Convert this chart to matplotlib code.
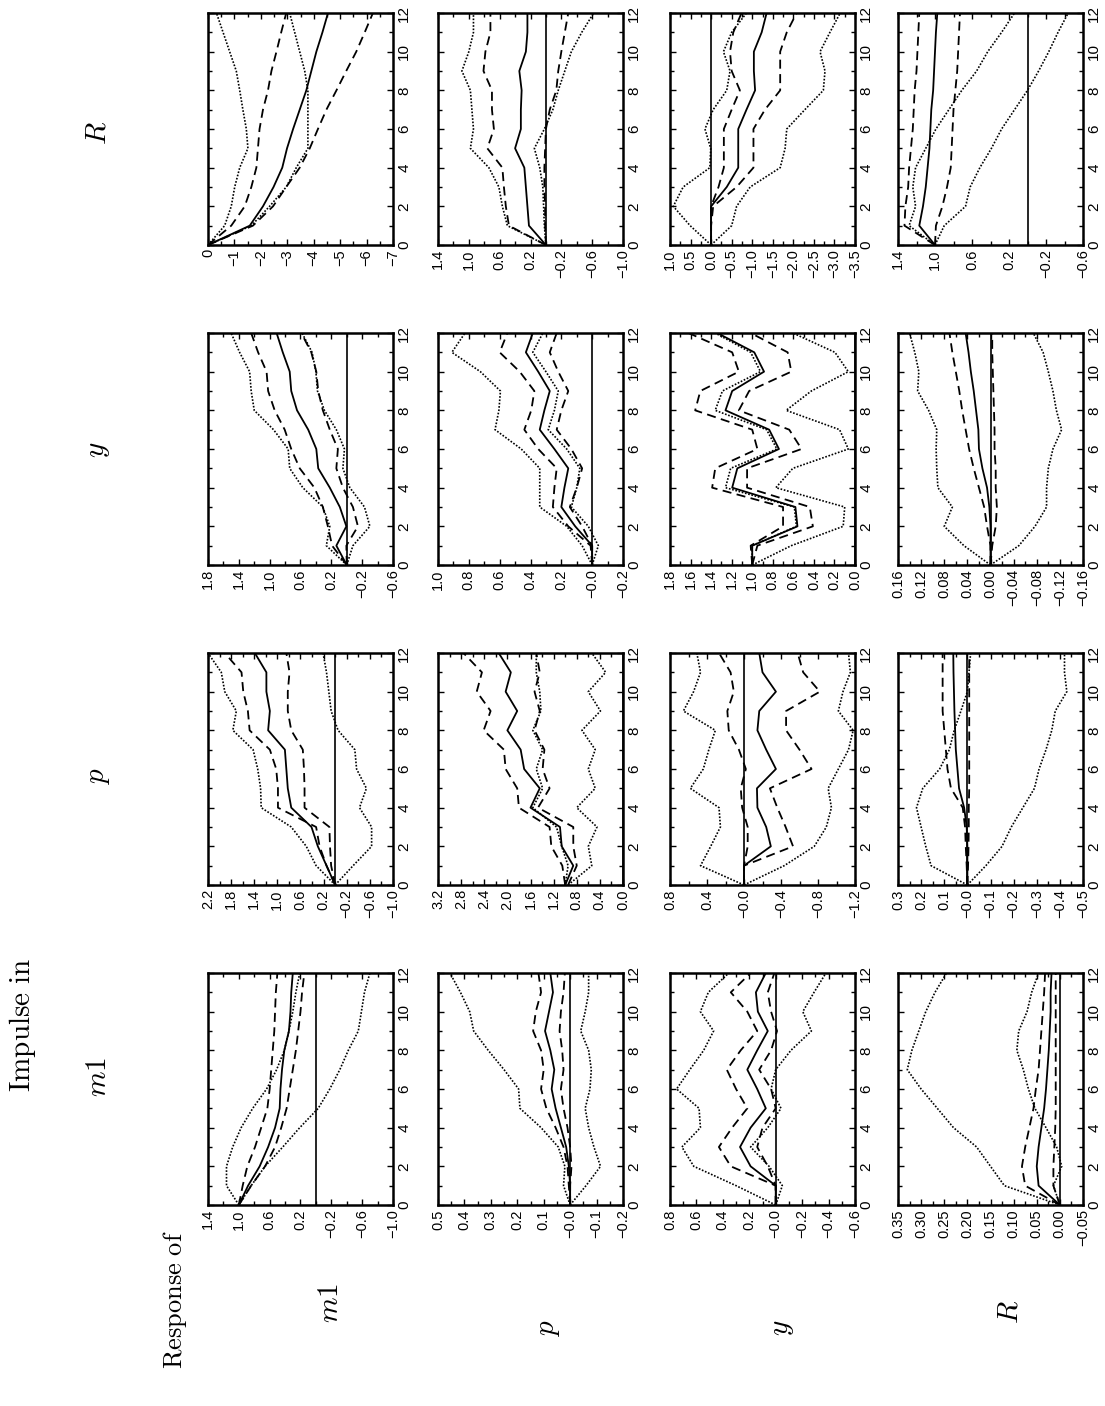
import numpy as np
import matplotlib.pyplot as plt

plt.rcParams['mathtext.fontset'] = 'cm'
plt.rcParams['font.family'] = ['Liberation Sans', 'DejaVu Sans']

# horizon (quarters after the impulse)
steps = np.arange(13)

# each panel: [estimate, upper dashed, lower dashed, upper dotted, lower dotted]
# impulse in m1
m1_m1 = [[1.0, 0.88, 0.73, 0.62, 0.53, 0.47, 0.46, 0.44, 0.41, 0.35, 0.33, 0.32, 0.30],
         [1.0, 0.95, 0.89, 0.79, 0.71, 0.63, 0.60, 0.58, 0.56, 0.54, 0.53, 0.52, 0.50],
         [1.0, 0.84, 0.66, 0.53, 0.45, 0.38, 0.34, 0.30, 0.26, 0.23, 0.20, 0.18, 0.15],
         [1.0, 1.16, 1.16, 1.08, 0.97, 0.82, 0.64, 0.51, 0.41, 0.35, 0.30, 0.26, 0.21],
         [1.0, 0.84, 0.66, 0.43, 0.21, -0.03, -0.18, -0.31, -0.42, -0.55, -0.59, -0.63, -0.70]]
m1_p = [[0, 0, 0.005, 0.015, 0.035, 0.055, 0.07, 0.06, 0.075, 0.095, 0.08, 0.065, 0.075],
        [0, 0.005, 0.01, 0.025, 0.055, 0.09, 0.11, 0.10, 0.11, 0.14, 0.13, 0.11, 0.12],
        [0, 0, -0.005, 0, 0.01, 0.025, 0.035, 0.025, 0.03, 0.04, 0.035, 0.025, 0.02],
        [0, 0.025, 0.02, 0.045, 0.11, 0.19, 0.195, 0.25, 0.31, 0.365, 0.38, 0.415, 0.455],
        [0, -0.06, -0.115, -0.09, -0.07, -0.057, -0.075, -0.08, -0.07, -0.04, -0.057, -0.07, -0.07]]
m1_y = [[0, 0, 0.19, 0.27, 0.19, 0.075, 0.14, 0.215, 0.14, 0.06, 0.135, 0.15, 0.075],
        [0, 0, 0.34, 0.43, 0.33, 0.215, 0.30, 0.37, 0.265, 0.14, 0.215, 0.34, 0.19],
        [0, 0, 0.06, 0.14, 0.10, 0.0, 0.035, 0.125, 0.035, -0.01, 0.035, 0.06, 0.01],
        [0, 0.30, 0.62, 0.71, 0.57, 0.58, 0.75, 0.65, 0.545, 0.47, 0.57, 0.51, 0.355],
        [0, -0.05, 0.05, 0.19, 0.06, -0.04, 0.035, 0.0, -0.115, -0.27, -0.205, -0.29, -0.38]]
m1_R = [[0, 0.046, 0.05, 0.046, 0.04, 0.034, 0.03, 0.027, 0.024, 0.022, 0.02, 0.02, 0.018],
        [0, 0.075, 0.082, 0.075, 0.066, 0.057, 0.052, 0.046, 0.043, 0.04, 0.037, 0.034, 0.032],
        [0, 0.014, 0.014, 0.012, 0.01, 0.009, 0.009, 0.009, 0.009, 0.009, 0.009, 0.009, 0.009],
        [0, 0.12, 0.15, 0.18, 0.23, 0.265, 0.30, 0.33, 0.32, 0.305, 0.29, 0.27, 0.245],
        [0, 0.014, -0.004, 0.007, 0.03, 0.054, 0.068, 0.079, 0.093, 0.089, 0.071, 0.061, 0.046]]

# impulse in p
p_m1 = [[0, 0.15, 0.30, 0.41, 0.76, 0.82, 0.845, 0.87, 1.16, 1.13, 1.19, 1.19, 1.39],
        [0, 0.15, 0.27, 0.33, 0.99, 0.99, 1.02, 1.13, 1.48, 1.51, 1.59, 1.62, 1.91],
        [0, 0.07, 0.09, 0.10, 0.53, 0.53, 0.54, 0.56, 0.76, 0.82, 0.82, 0.79, 0.845],
        [0, 0.33, 0.50, 0.76, 1.28, 1.29, 1.34, 1.42, 1.77, 1.71, 1.91, 1.97, 2.2],
        [0, -0.31, -0.63, -0.63, -0.42, -0.54, -0.37, -0.34, -0.05, 0.07, 0.11, 0.15, 0.21]]
p_p = [[1.0, 0.86, 1.06, 1.09, 1.6, 1.44, 1.71, 1.77, 2.0, 1.83, 2.03, 1.94, 2.15],
       [1.0, 1.05, 1.24, 1.27, 1.8, 1.83, 2.03, 2.06, 2.41, 2.29, 2.53, 2.44, 2.76],
       [0.95, 0.80, 0.86, 0.86, 1.47, 1.27, 1.39, 1.36, 1.53, 1.44, 1.53, 1.44, 1.5],
       [1.0, 0.95, 1.06, 1.15, 1.56, 1.39, 1.5, 1.39, 1.56, 1.42, 1.44, 1.5, 1.5],
       [0.95, 0.54, 0.6, 0.45, 0.8, 0.48, 0.6, 0.48, 0.71, 0.39, 0.6, 0.3, 0.54]]
p_y = [[0, 0, -0.29, -0.24, -0.145, -0.14, -0.345, -0.24, -0.145, -0.165, -0.345, -0.2, -0.165],
       [0, 0, -0.04, -0.04, 0.02, 0.035, -0.02, 0.055, 0.165, 0.18, 0.11, 0.145, 0.27],
       [0, 0, -0.53, -0.45, -0.36, -0.28, -0.73, -0.6, -0.455, -0.455, -0.82, -0.64, -0.58],
       [0, 0.47, 0.36, 0.255, 0.27, 0.58, 0.44, 0.38, 0.31, 0.655, 0.545, 0.47, 0.51],
       [0, -0.435, -0.76, -0.89, -0.945, -0.91, -1.02, -1.13, -1.18, -1.02, -1.07, -1.15, -1.13]]
p_R = [[0, 0, 0, 0.003, 0.014, 0.036, 0.043, 0.05, 0.053, 0.056, 0.058, 0.06, 0.061],
       [0, 0.003, 0.007, 0.01, 0.02, 0.071, 0.086, 0.093, 0.1, 0.107, 0.107, 0.107, 0.107],
       [0, -0.003, -0.005, -0.006, -0.006, -0.008, -0.008, -0.008, -0.008, -0.008, -0.008, -0.008, -0.008],
       [0, 0.157, 0.18, 0.2, 0.22, 0.193, 0.12, 0.078, 0.057, 0.028, 0.0, -0.007, -0.014],
       [0, -0.08, -0.15, -0.19, -0.24, -0.29, -0.31, -0.34, -0.365, -0.38, -0.43, -0.42, -0.42]]

# impulse in y
y_m1 = [[0, 0.135, 0.005, 0.09, 0.22, 0.37, 0.395, 0.5, 0.645, 0.72, 0.74, 0.83, 0.91],
        [0, 0.19, 0.245, 0.31, 0.42, 0.61, 0.72, 0.805, 0.935, 1.02, 1.04, 1.15, 1.24],
        [0, 0.005, -0.145, -0.08, 0.05, 0.135, 0.115, 0.22, 0.31, 0.37, 0.395, 0.46, 0.59],
        [0, 0.265, 0.22, 0.31, 0.57, 0.74, 0.76, 0.95, 1.2, 1.24, 1.26, 1.39, 1.5],
        [0, -0.08, -0.3, -0.23, -0.04, 0.05, 0.03, 0.135, 0.29, 0.38, 0.40, 0.45, 0.58]]
y_p = [[0, 0.0, 0.11, 0.2, 0.18, 0.155, 0.245, 0.34, 0.31, 0.275, 0.35, 0.43, 0.385],
       [0, 0.01, 0.155, 0.255, 0.245, 0.23, 0.35, 0.44, 0.395, 0.375, 0.47, 0.6, 0.55],
       [0, 0, 0.065, 0.145, 0.1, 0.065, 0.135, 0.23, 0.2, 0.155, 0.22, 0.275, 0.23],
       [0, 0.065, 0.165, 0.34, 0.34, 0.34, 0.46, 0.63, 0.605, 0.595, 0.725, 0.91, 0.825],
       [0, -0.04, 0.025, 0.135, 0.1, 0.08, 0.165, 0.285, 0.245, 0.22, 0.3, 0.385, 0.32]]
y_y = [[1.0, 1.0, 0.56, 0.58, 1.195, 1.145, 0.74, 0.835, 1.26, 1.195, 0.885, 0.98, 1.34],
       [1.0, 1.015, 0.7, 0.7, 1.39, 1.36, 0.95, 1.0, 1.555, 1.505, 1.13, 1.195, 1.62],
       [1.0, 0.95, 0.41, 0.44, 1.05, 1.05, 0.52, 0.64, 1.13, 1.03, 0.62, 0.655, 1.015],
       [1.0, 1.0, 0.57, 0.59, 1.26, 1.21, 0.76, 0.86, 1.36, 1.29, 0.92, 1.015, 1.36],
       [1.0, 0.62, 0.115, 0.1, 0.77, 0.605, 0.065, 0.15, 0.67, 0.425, 0.065, 0.195, 0.605]]
y_R = [[0, 0, 0, 0.002, 0.006, 0.014, 0.02, 0.021, 0.025, 0.029, 0.034, 0.038, 0.043],
       [0, 0, 0.006, 0.011, 0.02, 0.029, 0.037, 0.043, 0.049, 0.054, 0.06, 0.066, 0.071],
       [0, -0.003, -0.009, -0.011, -0.009, -0.009, -0.007, -0.007, -0.006, -0.005, -0.004, -0.003, -0.003],
       [0, 0.046, 0.08, 0.066, 0.091, 0.093, 0.094, 0.093, 0.107, 0.126, 0.124, 0.131, 0.14],
       [0, -0.049, -0.077, -0.097, -0.097, -0.1, -0.108, -0.123, -0.114, -0.108, -0.1, -0.091, -0.074]]

# impulse in R
R_m1 = [[0, -1.58, -2.08, -2.48, -2.81, -2.99, -3.22, -3.47, -3.72, -3.91, -4.1, -4.33, -4.54],
        [0, -0.88, -1.39, -1.64, -1.83, -1.89, -1.95, -2.08, -2.27, -2.4, -2.59, -2.77, -2.96],
        [0, -1.7, -2.46, -2.96, -3.47, -3.85, -4.16, -4.48, -4.86, -5.23, -5.61, -5.93, -6.24],
        [0, -0.63, -0.88, -1.01, -1.2, -1.51, -1.45, -1.32, -1.2, -1.07, -0.82, -0.57, -0.32],
        [0, -1.64, -2.33, -2.96, -3.34, -3.78, -3.78, -3.78, -3.78, -3.66, -3.47, -3.28, -3.09]]
R_p = [[0, 0.22, 0.24, 0.26, 0.28, 0.4, 0.325, 0.325, 0.315, 0.345, 0.26, 0.24, 0.24],
       [0, 0.48, 0.52, 0.545, 0.565, 0.76, 0.675, 0.7, 0.7, 0.81, 0.785, 0.72, 0.72],
       [0, 0.01, 0.01, 0.02, 0.02, 0.01, 0.0, -0.05, -0.135, -0.16, -0.2, -0.245, -0.29],
       [0, 0.5, 0.565, 0.61, 0.74, 0.98, 0.94, 0.96, 0.98, 1.09, 1.0, 0.94, 0.94],
       [0, 0.02, 0.03, 0.04, 0.08, 0.15, 0.02, -0.09, -0.16, -0.245, -0.33, -0.465, -0.62]]
R_y = [[0, 0, 0, -0.38, -0.66, -0.66, -0.66, -0.86, -1.07, -1.04, -1.04, -1.23, -1.35],
       [0, 0, 0, -0.18, -0.31, -0.31, -0.31, -0.5, -0.7, -0.5, -0.46, -0.54, -0.74],
       [0, 0, -0.05, -0.62, -1.03, -1.03, -1.03, -1.31, -1.68, -1.68, -1.68, -1.84, -2.08],
       [0, 0.51, 0.92, 0.68, 0.03, 0.01, 0.15, -0.05, -0.38, -0.46, -0.3, -0.5, -0.86],
       [0, -0.5, -0.62, -0.95, -1.68, -1.8, -1.84, -2.28, -2.73, -2.77, -2.65, -2.89, -3.14]]
R_R = [[1.0, 1.17, 1.13, 1.1, 1.08, 1.06, 1.05, 1.04, 1.02, 1.01, 1.0, 0.99, 0.975],
       [1.0, 1.33, 1.32, 1.29, 1.28, 1.26, 1.24, 1.23, 1.22, 1.2, 1.19, 1.18, 1.17],
       [1.0, 0.99, 0.92, 0.87, 0.83, 0.82, 0.81, 0.8, 0.78, 0.76, 0.75, 0.74, 0.73],
       [1.0, 1.28, 1.21, 1.24, 1.21, 1.1, 0.99, 0.85, 0.71, 0.55, 0.43, 0.28, 0.14],
       [1.0, 0.9, 0.67, 0.62, 0.515, 0.39, 0.28, 0.14, 0.0, -0.12, -0.23, -0.33, -0.44]]

# value-axis tick labels, first = top of scale
m1_m1_ticks = ['1.4', '1.0', '0.6', '0.2', '−0.2', '−0.6', '−1.0']
m1_p_ticks = ['0.5', '0.4', '0.3', '0.2', '0.1', '−0.0', '−0.1', '−0.2']
m1_y_ticks = ['0.8', '0.6', '0.4', '0.2', '−0.0', '−0.2', '−0.4', '−0.6']
m1_R_ticks = ['0.35', '0.30', '0.25', '0.20', '0.15', '0.10', '0.05', '0.00', '−0.05']
p_m1_ticks = ['2.2', '1.8', '1.4', '1.0', '0.6', '0.2', '−0.2', '−0.6', '−1.0']
p_p_ticks = ['3.2', '2.8', '2.4', '2.0', '1.6', '1.2', '0.8', '0.4', '0.0']
p_y_ticks = ['0.8', '0.4', '−0.0', '−0.4', '−0.8', '−1.2']
p_R_ticks = ['0.3', '0.2', '0.1', '−0.0', '−0.1', '−0.2', '−0.3', '−0.4', '−0.5']
y_m1_ticks = ['1.8', '1.4', '1.0', '0.6', '0.2', '−0.2', '−0.6']
y_p_ticks = ['1.0', '0.8', '0.6', '0.4', '0.2', '−0.0', '−0.2']
y_y_ticks = ['1.8', '1.6', '1.4', '1.2', '1.0', '0.8', '0.6', '0.4', '0.2', '0.0']
y_R_ticks = ['0.16', '0.12', '0.08', '0.04', '0.00', '−0.04', '−0.08', '−0.12', '−0.16']
R_m1_ticks = ['0', '−1', '−2', '−3', '−4', '−5', '−6', '−7']
R_p_ticks = ['1.4', '1.0', '0.6', '0.2', '−0.2', '−0.6', '−1.0']
R_y_ticks = ['1.0', '0.5', '0.0', '−0.5', '−1.0', '−1.5', '−2.0', '−2.5', '−3.0', '−3.5']
R_R_ticks = ['1.4', '1.0', '0.6', '0.2', '−0.2', '−0.6']

names = ['m1', 'p', 'y', 'R']
panels = {
    ('m1', 'm1'): (m1_m1, m1_m1_ticks), ('m1', 'p'): (m1_p, m1_p_ticks),
    ('m1', 'y'): (m1_y, m1_y_ticks), ('m1', 'R'): (m1_R, m1_R_ticks),
    ('p', 'm1'): (p_m1, p_m1_ticks), ('p', 'p'): (p_p, p_p_ticks),
    ('p', 'y'): (p_y, p_y_ticks), ('p', 'R'): (p_R, p_R_ticks),
    ('y', 'm1'): (y_m1, y_m1_ticks), ('y', 'p'): (y_p, y_p_ticks),
    ('y', 'y'): (y_y, y_y_ticks), ('y', 'R'): (y_R, y_R_ticks),
    ('R', 'm1'): (R_m1, R_m1_ticks), ('R', 'p'): (R_p, R_p_ticks),
    ('R', 'y'): (R_y, R_y_ticks), ('R', 'R'): (R_R, R_R_ticks),
}

# page is printed sideways: time runs upward, values run right-to-left
W, H = 1105, 1406
col_left = {'m1': 208, 'p': 438, 'y': 670, 'R': 898}
row_top = {'m1': 973, 'p': 653, 'y': 333, 'R': 13}
pw, ph = 185, 232

styles = [dict(ls='-', lw=1.3),
          dict(ls=(0, (5, 3)), lw=1.3), dict(ls=(0, (5, 3)), lw=1.3),
          dict(ls=(0, (1, 1)), lw=1.2), dict(ls=(0, (1, 1)), lw=1.2)]

fig = plt.figure(figsize=(W / 100, H / 100), dpi=100)

for (imp, resp), (curves, labels) in panels.items():
    x0, y0 = col_left[resp], row_top[imp]
    ax = fig.add_axes([x0 / W, 1 - (y0 + ph) / H, pw / W, ph / H])
    vals = [float(s.replace('−', '-')) for s in labels]
    ax.axvline(0, color='k', lw=1.2)
    for c, st in zip(curves, styles):
        ax.plot(c, steps, color='k', **st)
    ax.set_xlim(vals[0], vals[-1])
    ax.set_ylim(0, 12)
    ax.set_xticks(vals)
    ax.set_xticklabels(labels, rotation=90, fontsize=10.5)
    ax.set_xticks([(a + b) / 2 for a, b in zip(vals[:-1], vals[1:])], minor=True)
    ax.yaxis.tick_right()
    ax.set_yticks(range(0, 13, 2))
    ax.set_yticklabels([str(t) for t in range(0, 13, 2)], rotation=90, fontsize=11,
                       va='center')
    ax.set_yticks(range(1, 13, 2), minor=True)
    ax.tick_params(which='both', direction='in', top=True, bottom=True,
                   left=True, right=True, labelleft=False, labelright=True)
    ax.tick_params(which='major', length=4, width=1)
    ax.tick_params(which='minor', length=3, width=1)
    ax.tick_params(axis='x', pad=3)
    ax.tick_params(axis='y', pad=3)
    for s in ax.spines.values():
        s.set_linewidth(1.8)

# headings
fig.text(23 / W, 1 - 1025 / H, r'$\mathrm{Impulse\ in}$', rotation=90,
         ha='center', va='center', fontsize=21)
imp_y = {'m1': 1077, 'p': 776, 'y': 450, 'R': 133}
for n in names:
    fig.text(98 / W, 1 - imp_y[n] / H, '$' + n + '$', rotation=90,
             ha='center', va='center', fontsize=21)
fig.text(175 / W, 1 - 1300 / H, r'$\mathrm{Response\ of}$', rotation=90,
         ha='center', va='center', fontsize=19)
resp_x = {'m1': 330, 'p': 548, 'y': 782, 'R': 1010}
resp_y = {'m1': 1303, 'p': 1328, 'y': 1328, 'R': 1312}
for n in names:
    fig.text(resp_x[n] / W, 1 - resp_y[n] / H, '$' + n + '$', rotation=90,
             ha='center', va='center', fontsize=21)

fig.savefig('out.png', dpi=100)
